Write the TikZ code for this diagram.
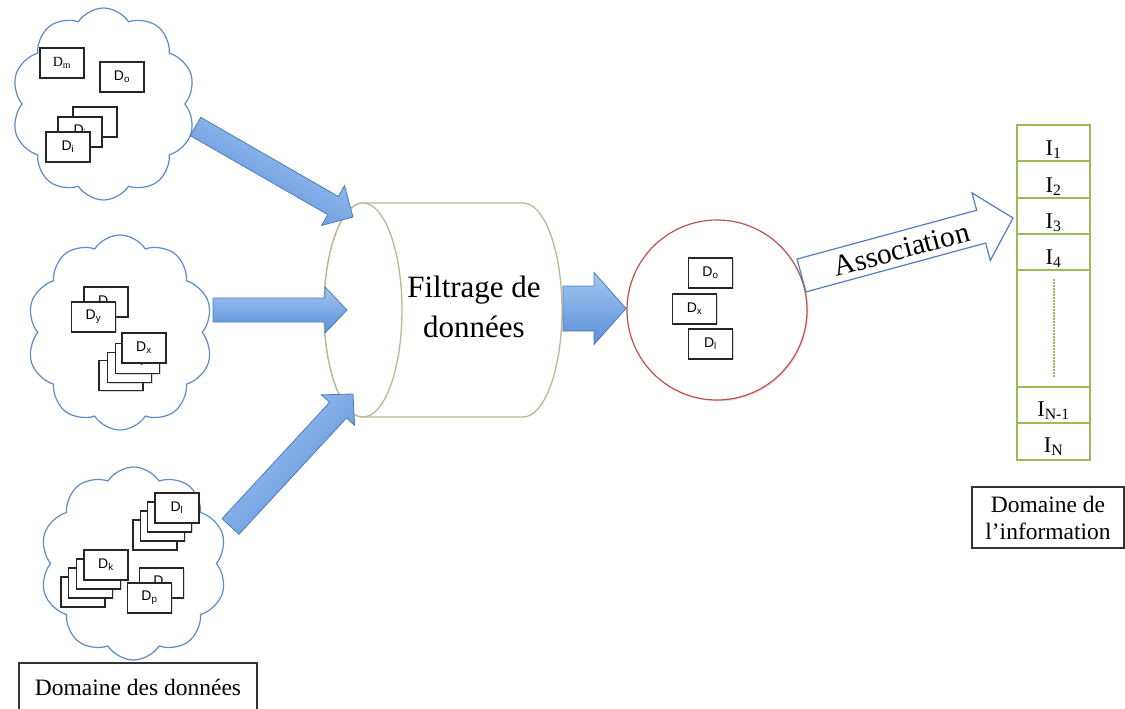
\documentclass[tikz,border=0pt]{standalone}
\usepackage{fontspec}
\setmainfont{Liberation Serif}
\newfontfamily\arialf{Liberation Sans}
\usetikzlibrary{shapes.symbols,calc,shadows}
\definecolor{cloudblue}{HTML}{5B8CCB}
\definecolor{arrowtop}{HTML}{A3C6F2}
\definecolor{arrowbot}{HTML}{5A8FD8}
\definecolor{arrowedge}{HTML}{4A7EBB}
\definecolor{assocblue}{HTML}{4F81BD}
\definecolor{cyltan}{HTML}{BFB78F}
\definecolor{circred}{HTML}{C0504D}
\definecolor{igreen}{HTML}{9BBB59}
\newcommand\fatarr[6]{%
  \coordinate (fa-base) at ($(#3)!#6!(#2)$);
  \path[#1] ($(#2)!#4!90:(#3)$) -- ($(fa-base)!#4!90:(#3)$) -- ($(fa-base)!#5!90:(#3)$) -- (#3)
    -- ($(fa-base)!#5!-90:(#3)$) -- ($(fa-base)!#4!-90:(#3)$) -- ($(#2)!#4!-90:(#3)$) -- cycle;}
\begin{document}
\begin{tikzpicture}[x=1pt,y=-1pt,
  cloudst/.style={cloud, draw=cloudblue, line width=1.2pt, cloud puffs=10, cloud puff arc=115,
    cloud ignores aspect, inner sep=0pt, fill=white},
  dbox/.style={draw=black!85, line width=1.3pt, fill=white, minimum width=44pt, minimum height=30pt,
    inner sep=0pt, font=\arialf\fontsize{14}{16}\selectfont,
    drop shadow={opacity=0.3, shadow xshift=1.2pt, shadow yshift=-1.2pt}},
  blarrow/.style={draw=arrowedge, line width=0.8pt, top color=arrowtop, bottom color=arrowbot, shading angle=#1},
  irow/.style={draw=igreen, line width=1.8pt, minimum width=73pt, inner sep=0pt},
  ilab/.style={anchor=base, inner sep=0pt, font=\fontsize{22.5}{27}\selectfont},
  dombox/.style={draw=black!80, line width=1.4pt, fill=white, font=\fontsize{23.5}{27}\selectfont,
    align=center, inner sep=0pt, drop shadow={opacity=0.25, shadow xshift=1.2pt, shadow yshift=-1.2pt}}]
\useasboundingbox[fill=white] (0,0) rectangle (1125,709);

% clouds
\node[cloudst, minimum width=184pt, minimum height=192pt] (c1) at (103.5,104) {};
\node[cloudst, minimum width=186pt, minimum height=195pt] (c2) at (120,332.5) {};
\node[cloudst, minimum width=187pt, minimum height=193pt] (c3) at (133.5,563.5) {};

% cloud 1 boxes
\node[dbox, font=\fontsize{14}{16}\selectfont] (dm) at (62,63) {D\textsubscript{m}};
\node[dbox] (do1) at (122,77) {D\textsubscript{o}};
\node[dbox] (s1a) at (95,122) {};
\node[dbox] (s1b) at (80,132) {D\textsubscript{j}};
\node[dbox] (di) at (68,147) {D\textsubscript{i}};

% cloud 2 boxes
\node[dbox] (p2a) at (106,302) {D\textsubscript{z}};
\node[dbox] (dy) at (93.5,317) {D\textsubscript{y}};
\node[dbox] (s2a) at (121,375.5) {D\textsubscript{i}};
\node[dbox] (s2b) at (129.5,367.5) {D\textsubscript{i}};
\node[dbox] (s2c) at (137.5,358.5) {D\textsubscript{j}};
\node[dbox] (dx1) at (144,348) {D\textsubscript{x}};

% cloud 3 boxes
\node[dbox] (s3a) at (155,535) {D\textsubscript{i}};
\node[dbox] (s3b) at (162.3,526) {D\textsubscript{i}};
\node[dbox] (s3c) at (169.7,517) {D\textsubscript{j}};
\node[dbox] (dl1) at (177,508) {D\textsubscript{l}};
\node[dbox] (s4a) at (83,592) {D\textsubscript{i}};
\node[dbox] (s4b) at (90.7,583) {D\textsubscript{i}};
\node[dbox] (s4c) at (98.3,574) {D\textsubscript{j}};
\node[dbox] (dk) at (106,565) {D\textsubscript{k}};
\node[dbox] (p3a) at (161.5,583) {D\textsubscript{q}};
\node[dbox] (dp) at (149.5,598) {D\textsubscript{p}};

% cylinder
\draw[cyltan, line width=1.3pt, fill=white] (363,203) -- (523,203)
  arc[start angle=-90, end angle=90, x radius=39, y radius=107] -- (363,417)
  arc[start angle=90, end angle=270, x radius=39, y radius=107] -- cycle;
\draw[cyltan, line width=1.3pt, fill=white] (363,310) ellipse [x radius=39, y radius=107];
\node[align=center, inner sep=0pt, font=\fontsize{31}{40}\selectfont] (filt) at (474,307) {Filtrage de\\données};

% circle
\node[circle, draw=circred, line width=1.2pt, minimum size=180pt, inner sep=0pt, fill=white,
  drop shadow={opacity=0.2, shadow xshift=1.5pt, shadow yshift=-1.5pt}] (sel) at (717,310) {};
\node[dbox] (do2) at (710.5,273) {D\textsubscript{o}};
\node[dbox] (dx2) at (694.5,309) {D\textsubscript{x}};
\node[dbox] (dl2) at (710.5,344) {D\textsubscript{l}};

% fat arrows
\coordinate (a1t) at (195.5,126.5); \coordinate (a1h) at (353,217);
\coordinate (a2t) at (213,310);     \coordinate (a2h) at (347,310);
\coordinate (a3t) at (230.5,526.5); \coordinate (a3h) at (353,394);
\coordinate (a4t) at (563,308.5);   \coordinate (a4h) at (626,308.5);
\fatarr{blarrow=-30}{a1t}{a1h}{10.5pt}{23pt}{23pt}
\fatarr{blarrow=0}{a2t}{a2h}{12pt}{23pt}{22pt}
\fatarr{blarrow=47}{a3t}{a3h}{11.5pt}{22.5pt}{22pt}
\fatarr{blarrow=0}{a4t}{a4h}{22.5pt}{36pt}{32pt}

% association arrow
\coordinate (ast) at (801.5,275.5); \coordinate (ash) at (1013,218);
\fatarr{draw=assocblue, line width=1.2pt, fill=white}{ast}{ash}{17pt}{35pt}{33pt}
\node[rotate=15, anchor=base, inner sep=0pt, font=\fontsize{29.5}{32}\selectfont] (assoc) at (904,258.5) {Association};

% information column
\node[irow, minimum height=36pt] (r1) at (1053.5,143) {};
\node[irow, minimum height=37pt] (r2) at (1053.5,179.5) {};
\node[irow, minimum height=36pt] (r3) at (1053.5,216) {};
\node[irow, minimum height=36pt] (r4) at (1053.5,252) {};
\node[irow, minimum height=117pt] (rg) at (1053.5,328.5) {};
\node[irow, minimum height=36pt] (r5) at (1053.5,405) {};
\node[irow, minimum height=37pt] (r6) at (1053.5,441.5) {};
\node[ilab] (l1) at (1053.5,155) {I\textsubscript{1}};
\node[ilab] (l2) at (1053.5,192) {I\textsubscript{2}};
\node[ilab] (l3) at (1053.5,228) {I\textsubscript{3}};
\node[ilab] (l4) at (1053.5,264) {I\textsubscript{4}};
\node[ilab] (l5) at (1053.5,416) {I\textsubscript{N-1}};
\node[ilab] (l6) at (1053.5,452) {I\textsubscript{N}};
\coordinate (dt) at (1053.5,279); \coordinate (db) at (1053.5,377);
\draw[igreen, line width=2pt, dash pattern=on 1.5pt off 1.5pt] (dt) -- (db);

% domain labels
\node[dombox, minimum width=238pt, minimum height=49pt] (domd) at (138,687.5) {Domaine des données};
\node[dombox, minimum width=152pt, minimum height=61pt] (domi) at (1048,517.5) {Domaine de\\l’information};
\end{tikzpicture}
\end{document}
